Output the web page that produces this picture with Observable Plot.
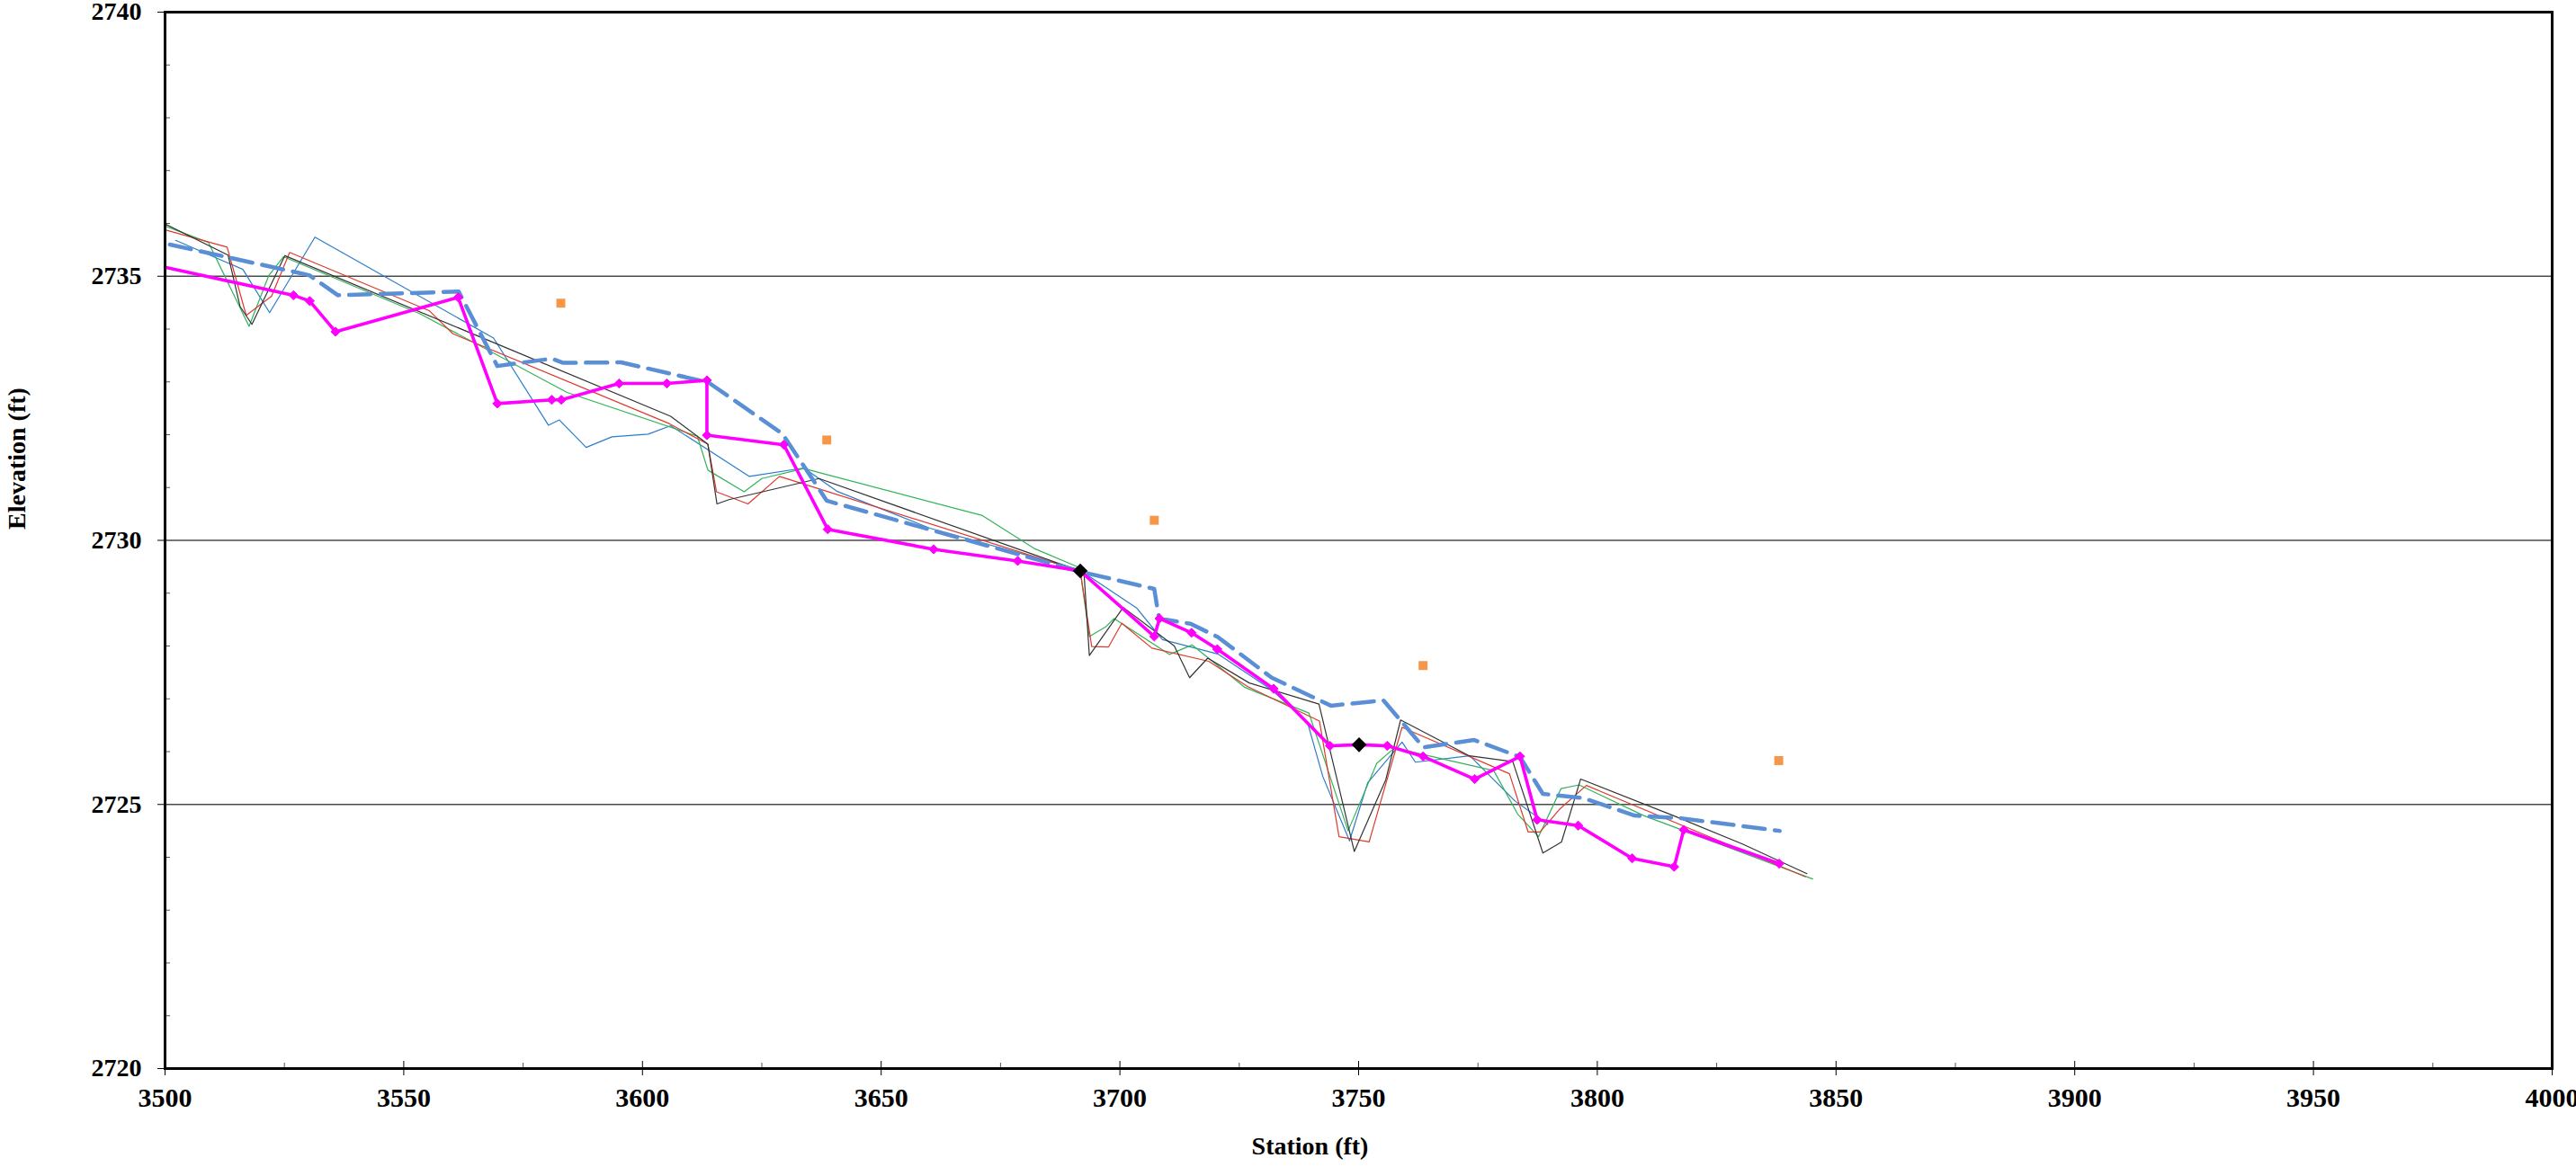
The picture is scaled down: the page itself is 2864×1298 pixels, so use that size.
<!DOCTYPE html>
<html>
<head>
<meta charset="utf-8">
<script src="https://cdn.jsdelivr.net/npm/d3@7"></script>
<script src="https://cdn.jsdelivr.net/npm/@observablehq/plot@0.6"></script>
<style>
  html, body { margin: 0; padding: 0; background: #fff; }
  #chart svg { display: block; }
</style>
</head>
<body>
<div id="chart"></div>
<script>
// Profile survey: station (ft) vs. elevation (ft)

// Thin survey profiles
const blackStation = [3500, 3513.2, 3515.7, 3518.2, 3525.1, 3605.9, 3613.7, 3615.6, 3618.1, 3637, 3691.7, 3692.5, 3693.6, 3700.7, 3711.4, 3714.6, 3718.4, 3727.1, 3741.7, 3749.1, 3755.7, 3758.8, 3773.2, 3782.3, 3788.6, 3792.5, 3796.5, 3815.9, 3830.4, 3843.9];
const blackElev    = [2735.99, 2735.40, 2734.43, 2734.09, 2735.39, 2732.35, 2731.82, 2730.69, 2730.77, 2731.17, 2729.42, 2729.36, 2727.82, 2728.73, 2728.00, 2727.40, 2727.77, 2727.30, 2726.90, 2724.11, 2725.47, 2726.60, 2725.92, 2725.81, 2724.08, 2724.29, 2725.48, 2724.79, 2724.25, 2723.69];

const redStation = [3500, 3513, 3517, 3522.3, 3526.1, 3555.3, 3560.3, 3605.6, 3613.7, 3615.5, 3622.1, 3628.7, 3691.7, 3694.1, 3697.6, 3700.4, 3706.7, 3718.6, 3726.8, 3741.8, 3745.9, 3752.2, 3759.1, 3781.6, 3785.5, 3788, 3792.1, 3797.7, 3843.6];
const redElev    = [2735.88, 2735.55, 2734.26, 2734.62, 2735.45, 2734.35, 2733.91, 2732.21, 2731.82, 2730.92, 2730.69, 2731.21, 2729.42, 2727.99, 2727.98, 2728.43, 2727.96, 2727.71, 2727.23, 2726.58, 2724.39, 2724.29, 2726.46, 2725.58, 2724.48, 2724.48, 2724.91, 2725.36, 2723.63];

const greenStation = [3500, 3509.1, 3517.6, 3521.7, 3524.8, 3553.4, 3584.2, 3611.5, 3613.7, 3621.3, 3625, 3633.8, 3671.2, 3682.2, 3691.6, 3693.6, 3697, 3698.8, 3710.4, 3715.1, 3726.1, 3739.6, 3747.8, 3753.8, 3757.5, 3778.3, 3783.3, 3787.7, 3792.4, 3796.2, 3809.7, 3845.1];
const greenElev    = [2735.95, 2735.64, 2734.05, 2735.01, 2735.37, 2734.29, 2732.80, 2731.97, 2731.33, 2730.92, 2731.17, 2731.36, 2730.47, 2729.84, 2729.48, 2728.18, 2728.36, 2728.52, 2727.84, 2728.02, 2727.22, 2726.73, 2724.50, 2725.78, 2726.07, 2725.64, 2724.82, 2724.39, 2725.30, 2725.37, 2724.79, 2723.59];

const blueStation = [3502.2, 3516.3, 3521.9, 3531.4, 3568.8, 3580.3, 3582.6, 3588.2, 3593.6, 3601.2, 3605.9, 3622.4, 3633.8, 3640.7, 3660.2, 3691.6, 3703.5, 3708.9, 3720.5, 3731.8, 3739.3, 3742.5, 3748.1, 3751.9, 3759.1, 3761.9, 3773.3, 3782.7, 3789.6];
const blueElev    = [2735.68, 2735.13, 2734.31, 2735.74, 2733.83, 2732.18, 2732.28, 2731.76, 2731.96, 2732.01, 2732.17, 2731.21, 2731.37, 2730.93, 2730.23, 2729.44, 2728.72, 2728.12, 2727.85, 2727.17, 2726.55, 2725.53, 2724.31, 2725.41, 2726.18, 2725.80, 2725.92, 2725.07, 2724.62];

// Dashed profile
const dashedStation = [3501, 3530.2, 3536.2, 3561.5, 3569.6, 3581, 3583.4, 3595.5, 3613.8, 3629.3, 3638.6, 3691.6, 3707.2, 3708.2, 3714.8, 3720.5, 3731.8, 3744.2, 3755.2, 3763.6, 3774.2, 3783.8, 3788.6, 3797.1, 3807.8, 3817.4, 3838.2];
const dashedElev    = [2735.60, 2735.02, 2734.64, 2734.71, 2733.30, 2733.44, 2733.36, 2733.37, 2732.99, 2732.02, 2730.75, 2729.41, 2729.08, 2728.52, 2728.42, 2728.17, 2727.40, 2726.87, 2726.97, 2726.08, 2726.22, 2725.90, 2725.20, 2725.12, 2724.79, 2724.74, 2724.50];

// Thick profile with diamond markers
const magentaStation = [3500, 3526.9, 3530.3, 3535.7, 3561.4, 3569.6, 3581, 3583, 3595.1, 3605.1, 3613.5, 3613.5, 3629.6, 3638.8, 3661, 3678.6, 3691.7, 3707.2, 3708.3, 3715, 3720.4, 3732.2, 3744, 3750.1, 3756, 3763.5, 3774.3, 3783.8, 3787.4, 3796, 3807.3, 3816.1, 3818.1, 3838.1];
const magentaElev    = [2735.17, 2734.64, 2734.53, 2733.95, 2734.60, 2732.59, 2732.66, 2732.66, 2732.97, 2732.97, 2733.03, 2731.99, 2731.81, 2730.21, 2729.83, 2729.61, 2729.42, 2728.18, 2728.52, 2728.25, 2727.94, 2727.19, 2726.11, 2726.13, 2726.11, 2725.91, 2725.48, 2725.91, 2724.71, 2724.60, 2723.98, 2723.82, 2724.52, 2723.88];

// Control points
const controlStation = [3691.7, 3750.1];
const controlElev    = [2729.42, 2726.13];

// Isolated square points
const squareStation = [3582.9, 3638.6, 3707.2, 3763.5, 3838.0];
const squareElev    = [2734.49, 2731.90, 2730.38, 2727.63, 2725.83];

// Axis ticks
const xMajorTicks = d3.range(3500, 4001, 50);
const xMinorTicks = d3.range(3525, 4000, 50);
const yMajorTicks = d3.range(2720, 2741, 5);
const yMinorTicks = d3.range(2721, 2740, 1).filter(v => v % 5 !== 0);
const gridElev = [2725, 2730, 2735];

const zip = (xs, ys) => xs.map((x, i) => ({station: x, elev: ys[i]}));

const black = zip(blackStation, blackElev);
const red = zip(redStation, redElev);
const green = zip(greenStation, greenElev);
const blue = zip(blueStation, blueElev);
const dashed = zip(dashedStation, dashedElev);
const magenta = zip(magentaStation, magentaElev);
const control = zip(controlStation, controlElev);
const squares = zip(squareStation, squareElev);

const plain = d => String(d);

const chart = Plot.plot({
  width: 2864,
  height: 1298,
  marginLeft: 183,
  marginRight: 27,
  marginTop: 13,
  marginBottom: 110,
  x: {domain: [3500, 4000]},
  y: {domain: [2720, 2740]},
  style: {
    fontFamily: "'Liberation Serif', 'Times New Roman', serif",
    fontWeight: "bold",
    fontSize: "30px",
    color: "black",
    background: "white"
  },
  marks: [
    Plot.ruleY(gridElev, {stroke: "#4a4a4a", strokeWidth: 1.6}),

    // axes: labels with outward ticks, plus inward major and minor ticks
    Plot.axisX(xMajorTicks, {anchor: "bottom", tickSize: 8, tickPadding: 13, label: null, tickFormat: plain, strokeWidth: 1, fontSize: 30}),
    Plot.axisX(xMajorTicks, {anchor: "bottom", tickSize: -8, tickFormat: () => "", label: null, strokeWidth: 1}),
    Plot.axisX(xMinorTicks, {anchor: "bottom", tickSize: -6, tickFormat: () => "", label: null, strokeWidth: 1, stroke: "#555"}),
    Plot.axisY(yMajorTicks, {anchor: "left", tickSize: 8, tickPadding: 18, label: null, tickFormat: plain, strokeWidth: 1, fontSize: 28}),
    Plot.axisY(yMinorTicks, {anchor: "left", tickSize: -6, tickFormat: () => "", label: null, strokeWidth: 1, stroke: "#555"}),

    // axis titles
    Plot.text(["Elevation (ft)"], {frameAnchor: "left", text: d => d, rotate: -90, dx: -164, dy: -12, fontSize: 28, fontWeight: "bold"}),
    Plot.text(["Station (ft)"], {frameAnchor: "bottom", text: d => d, dx: -54, dy: 95, fontSize: 28, fontWeight: "bold"}),

    // thin survey lines
    Plot.line(blue, {x: "station", y: "elev", stroke: "#2b7cc9", strokeWidth: 1.2}),
    Plot.line(green, {x: "station", y: "elev", stroke: "#32b35a", strokeWidth: 1.2}),
    Plot.line(red, {x: "station", y: "elev", stroke: "#dc3a2c", strokeWidth: 1.2}),
    Plot.line(black, {x: "station", y: "elev", stroke: "#333", strokeWidth: 1.2}),

    // dashed profile
    Plot.line(dashed, {x: "station", y: "elev", stroke: "#5a8fd6", strokeWidth: 4.5, strokeDasharray: "24,11", strokeLinejoin: "round"}),

    // thick profile with diamond markers
    Plot.line(magenta, {x: "station", y: "elev", stroke: "#ff00ff", strokeWidth: 3.6, strokeLinejoin: "round"}),
    Plot.dot(magenta.slice(1), {x: "station", y: "elev", symbol: "diamond2", r: 4.6, fill: "#ff00ff", stroke: "#ff00ff", strokeWidth: 1}),

    // control points
    Plot.dot(control, {x: "station", y: "elev", symbol: "diamond2", r: 6.5, fill: "black", stroke: "black"}),

    // isolated square points
    Plot.dot(squares, {x: "station", y: "elev", symbol: "square", r: 5.6, fill: "#f79646", stroke: "none"}),

    Plot.frame({stroke: "black", strokeWidth: 3})
  ]
});

document.getElementById("chart").append(chart);
</script>
</body>
</html>
